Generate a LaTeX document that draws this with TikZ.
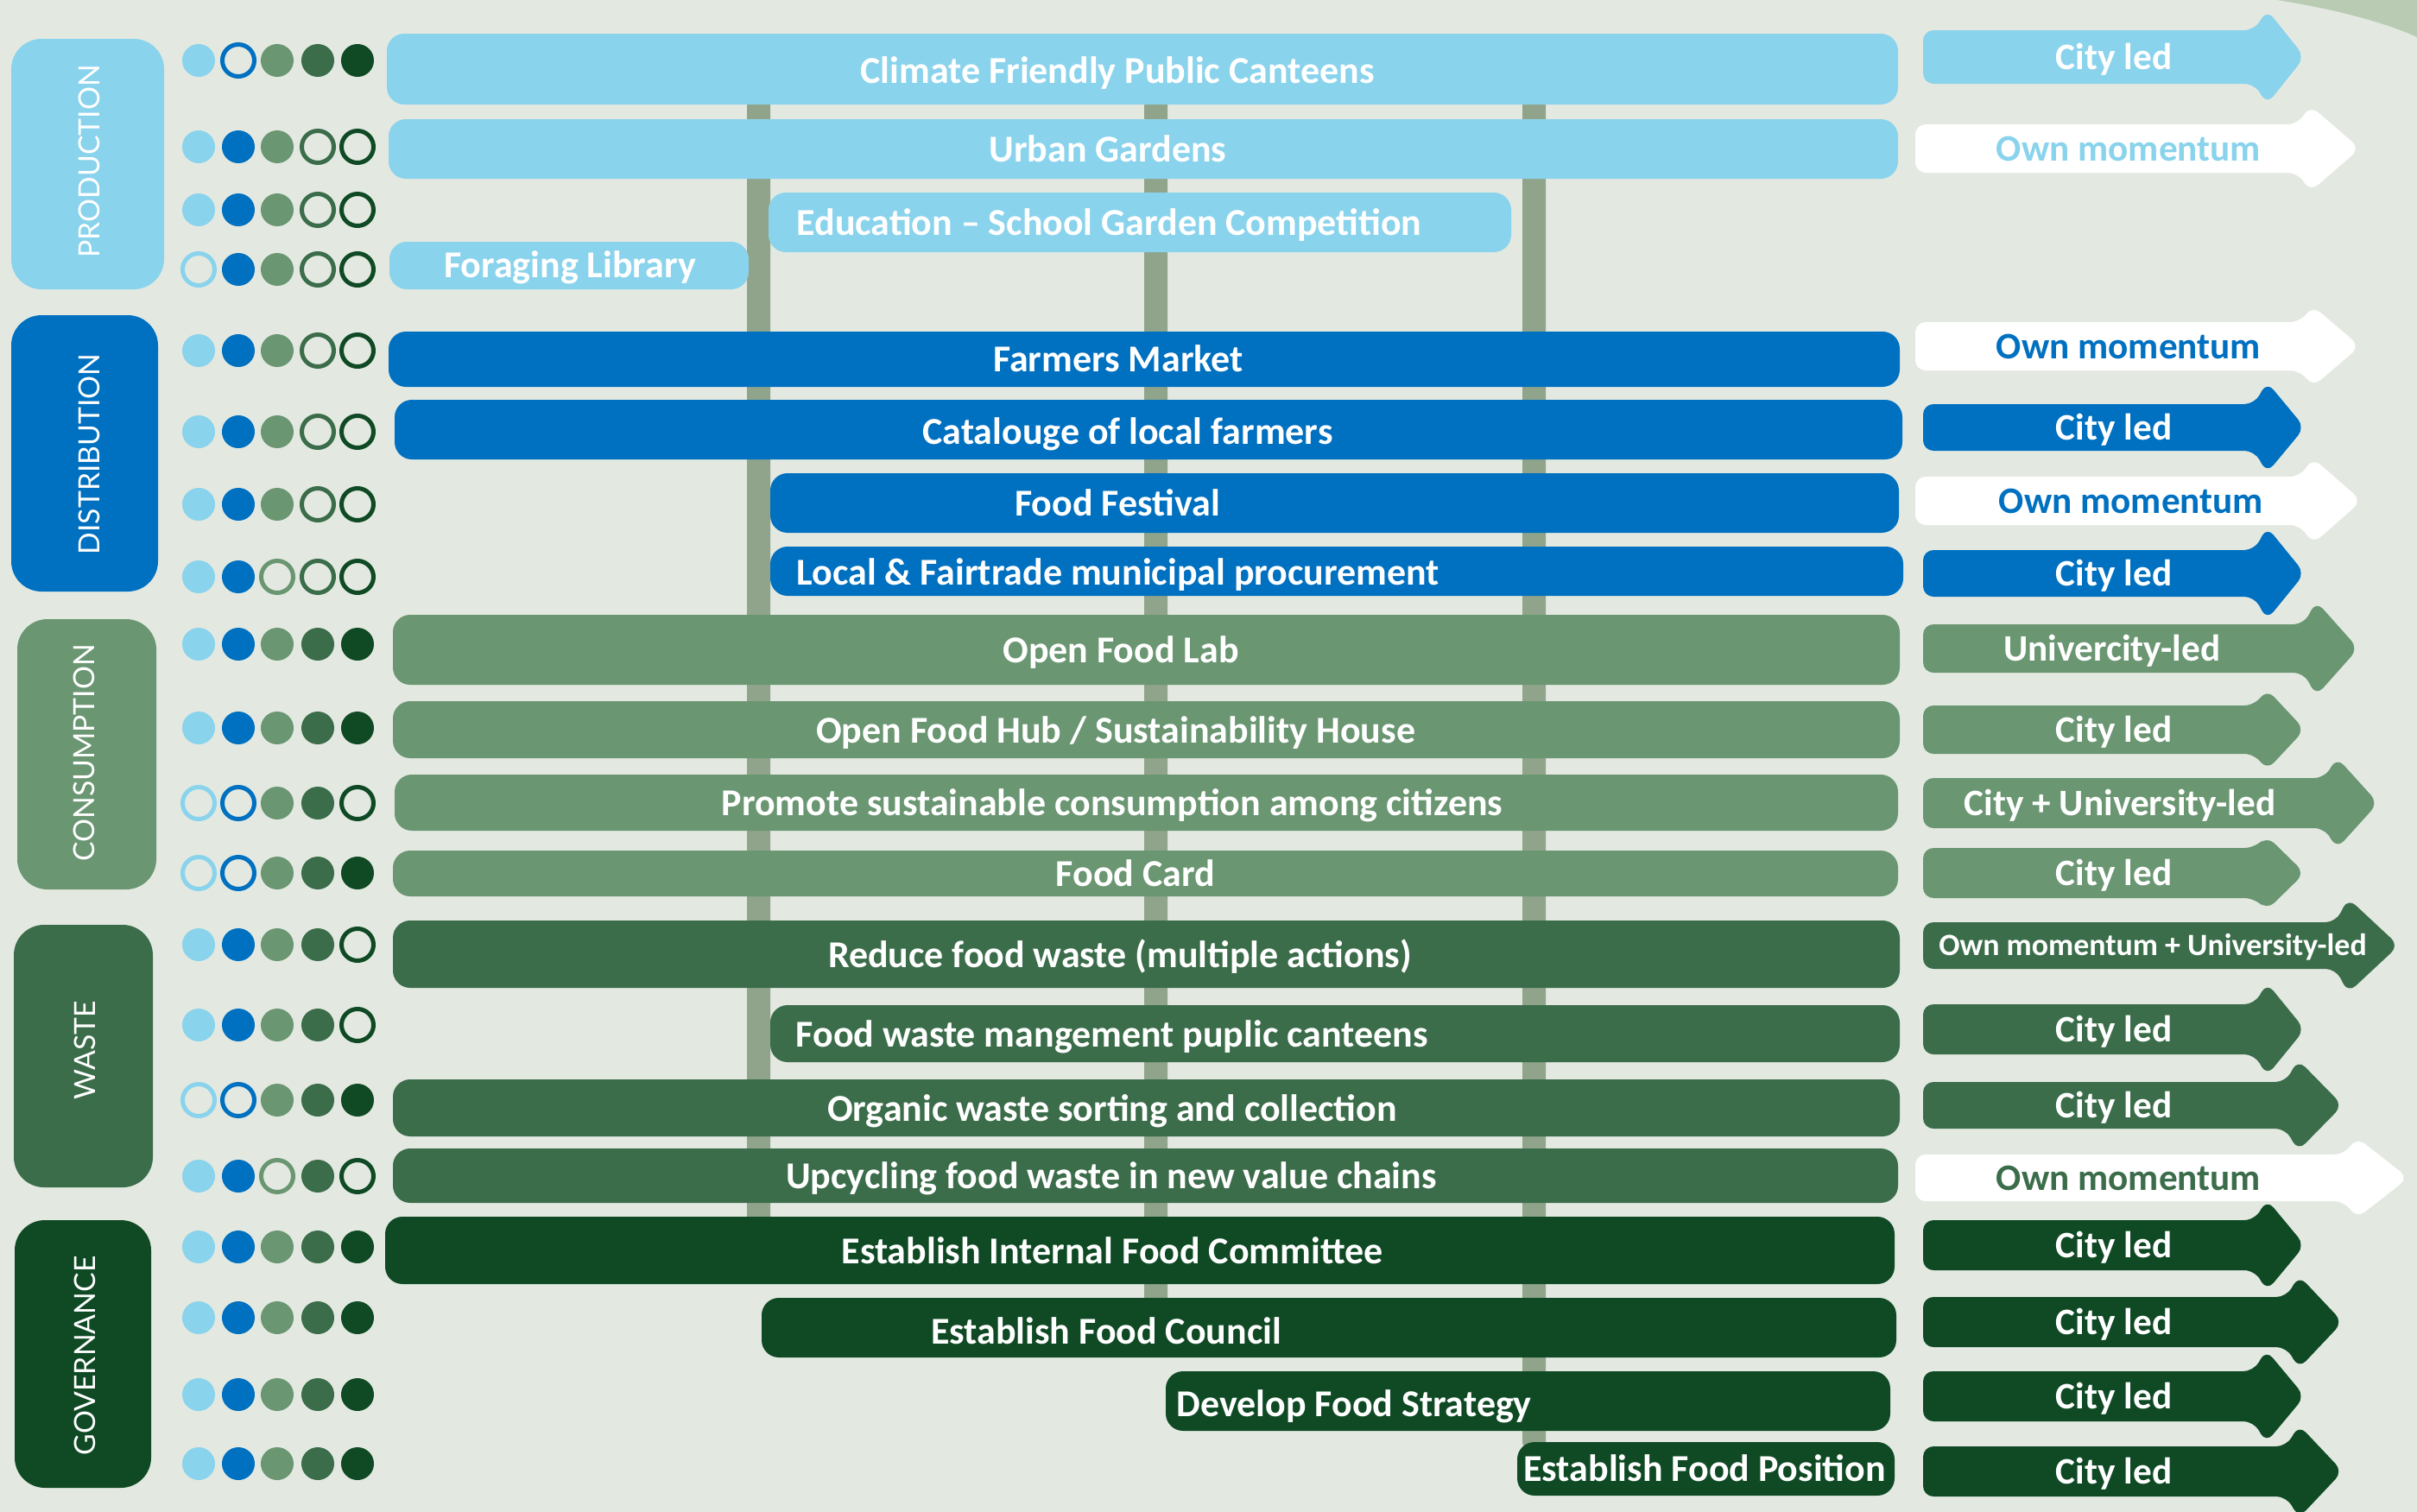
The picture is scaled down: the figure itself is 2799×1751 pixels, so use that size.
\documentclass[tikz,border=0pt]{standalone}
\usepackage{fontspec}
\setmainfont{Carlito}
\newfontfamily\catfont{Lato}
\definecolor{bg}{HTML}{E3E9E1}
\definecolor{lb}{HTML}{8AD3EC}
\definecolor{bl}{HTML}{0070C0}
\definecolor{mg}{HTML}{6A9672}
\definecolor{dmg}{HTML}{3B6D4A}
\definecolor{dg}{HTML}{0F4A25}
\definecolor{vbar}{HTML}{8FA48A}
\definecolor{corner}{HTML}{B9CBB3}
\newcommand\dt[3]{\if#3f\fill[#1] (#2,\rowy) circle[radius=0.19cm];\else\draw[#1,line width=0.05cm,fill=bg] (#2,\rowy) circle[radius=0.185cm];\fi}
\newcommand\dotrow[6]{\def\rowy{#1}\dt{lb}{230}{#2}\dt{bl}{276}{#3}\dt{mg}{321}{#4}\dt{dmg}{368}{#5}\dt{dg}{414}{#6}}
% #1 colour, #2 centre y, #3 body half height, #4 head base x, #5 tip x, #6 head half height, #7 left x
\newcommand\ledarrow[7]{\fill[#1, rounded corners=0.12cm] (#7,{#2-#3}) -- (#4,{#2-#3}) -- ({#4+14},{#2-#6}) -- (#5,#2) -- ({#4+14},{#2+#6}) -- (#4,{#2+#3}) -- (#7,{#2+#3}) -- cycle;}
\newcommand\actbar[5]{\fill[#1, rounded corners=0.2cm] (#2,#3) rectangle (#4,#5);}
\tikzset{
  bartext/.style={text=white, font=\fontsize{12.5}{14}\selectfont\bfseries, anchor=base, inner sep=0pt},
  arrtext/.style={font=\fontsize{12.3}{14}\selectfont\bfseries, anchor=base, inner sep=0pt},
  cattext/.style={text=white, font=\catfont\fontsize{9.6}{11}\selectfont, rotate=90, inner sep=0pt},
  catbox/.style={rounded corners=0.35cm},
  vline/.style={fill=vbar, rounded corners=0.1cm}
}
\begin{document}
\begin{tikzpicture}[x=0.01cm,y=-0.01cm]
\useasboundingbox (0,0) rectangle (2799,1751);
\fill[bg] (0,0) rectangle (2799,1751);
\fill[corner] (2637,0) .. controls (2700,10) and (2760,25) .. (2799,43) -- (2799,0) -- cycle;
% vertical bars
\path[vline] (865,100) rectangle (892,1420);
\path[vline] (1325,100) rectangle (1352,1515);
\path[vline] (1763,100) rectangle (1790,1680);
% production
\actbar{lb}{448}{39}{2198}{121}
\actbar{lb}{450}{138}{2198}{207}
\actbar{lb}{890}{223}{1750}{292}
\actbar{lb}{451}{280}{867}{335}
% distribution
\actbar{bl}{450}{384}{2200}{448}
\actbar{bl}{457}{463}{2203}{532}
\actbar{bl}{892}{548}{2199}{617}
\actbar{bl}{892}{633}{2204}{690}
% consumption
\actbar{mg}{455}{712}{2200}{793}
\actbar{mg}{455}{812}{2200}{878}
\actbar{mg}{457}{897}{2198}{962}
\actbar{mg}{455}{985}{2198}{1038}
% waste
\actbar{dmg}{455}{1066}{2200}{1144}
\actbar{dmg}{892}{1164}{2200}{1230}
\actbar{dmg}{455}{1250}{2200}{1316}
\actbar{dmg}{455}{1330}{2198}{1393}
% governance
\actbar{dg}{446}{1409}{2194}{1487}
\actbar{dg}{882}{1503}{2196}{1572}
\actbar{dg}{1350}{1588}{2189}{1657}
\actbar{dg}{1757}{1670}{2194}{1732}
% bar texts
\node[bartext] (t1) at (1294,96) {Climate Friendly Public Canteens};
\node[bartext] (t2) at (1283,187) {Urban Gardens};
\node[bartext, anchor=base west] (t3) at (922,272) {Education -- School Garden Competition};
\node[bartext] (t4) at (660,321) {Foraging Library};
\node[bartext] (t5) at (1295,430) {Farmers Market};
\node[bartext] (t6) at (1306,514) {Catalouge of local farmers};
\node[bartext] (t7) at (1294,597) {Food Festival};
\node[bartext, anchor=base west] (t8) at (922,677) {Local \& Fairtrade municipal procurement};
\node[bartext] (t9) at (1298,767) {Open Food Lab};
\node[bartext] (t10) at (1292,860) {Open Food Hub / Sustainability House};
\node[bartext] (t11) at (1288,944) {Promote sustainable consumption among citizens};
\node[bartext] (t12) at (1315,1026) {Food Card};
\node[bartext] (t13) at (1297,1120) {Reduce food waste (multiple actions)};
\node[bartext, anchor=base west] (t14) at (921,1212) {Food waste mangement puplic canteens};
\node[bartext] (t15) at (1288,1298) {Organic waste sorting and collection};
\node[bartext] (t16) at (1287,1376) {Upcycling food waste in new value chains};
\node[bartext] (t17) at (1288,1463) {Establish Internal Food Committee};
\node[bartext] (t18) at (1281,1556) {Establish Food Council};
\node[bartext, anchor=base west] (t19) at (1362,1640) {Develop Food Strategy};
\node[bartext] (t20) at (1974,1715) {Establish Food Position};
% arrows
\ledarrow{lb}{66}{31}{2611}{2669}{55}{2227}
\ledarrow{white}{172}{28}{2661}{2733}{50}{2218}
\ledarrow{white}{401}{28}{2664}{2733}{47}{2218}
\ledarrow{bl}{495}{27}{2611}{2669}{53}{2227}
\ledarrow{white}{580}{28}{2664}{2735}{50}{2218}
\ledarrow{bl}{664}{27}{2611}{2669}{54}{2227}
\ledarrow{mg}{751}{28}{2668}{2731}{55}{2227}
\ledarrow{mg}{845}{28}{2611}{2669}{47}{2227}
\ledarrow{mg}{930}{29}{2692}{2754}{53}{2227}
\ledarrow{mg}{1011}{29}{2611}{2669}{43}{2227}
\ledarrow{dmg}{1095}{27}{2705}{2778}{55}{2227}
\ledarrow{dmg}{1192}{29}{2611}{2669}{54}{2227}
\ledarrow{dmg}{1280}{27}{2647}{2713}{53}{2227}
\ledarrow{white}{1364}{27}{2715}{2789}{47}{2218}
\ledarrow{dg}{1442}{29}{2611}{2669}{53}{2227}
\ledarrow{dg}{1531}{29}{2648}{2713}{54}{2227}
\ledarrow{dg}{1617}{29}{2610}{2669}{54}{2227}
\ledarrow{dg}{1704}{29}{2648}{2713}{54}{2227}
% arrow texts
\node[arrtext, text=white] (a1) at (2448,80) {City led};
\node[arrtext, text=lb] (a2) at (2465,186) {Own momentum};
\node[arrtext, text=bl] (a3) at (2465,415) {Own momentum};
\node[arrtext, text=white] (a4) at (2448,509) {City led};
\node[arrtext, text=bl] (a5) at (2468,594) {Own momentum};
\node[arrtext, text=white] (a6) at (2448,678) {City led};
\node[arrtext, text=white] (a7) at (2446,765) {Univercity-led};
\node[arrtext, text=white] (a8) at (2448,859) {City led};
\node[arrtext, text=white] (a9) at (2455,944) {City + University-led};
\node[arrtext, text=white] (a10) at (2448,1025) {City led};
\node[arrtext, text=white, font=\fontsize{10.2}{12}\selectfont\bfseries] (a11) at (2493,1106) {Own momentum + University-led};
\node[arrtext, text=white] (a12) at (2448,1206) {City led};
\node[arrtext, text=white] (a13) at (2448,1294) {City led};
\node[arrtext, text=dmg] (a14) at (2465,1378) {Own momentum};
\node[arrtext, text=white] (a15) at (2448,1456) {City led};
\node[arrtext, text=white] (a16) at (2448,1545) {City led};
\node[arrtext, text=white] (a17) at (2448,1631) {City led};
\node[arrtext, text=white] (a18) at (2448,1718) {City led};
% dots
\dotrow{70}{f}{o}{f}{f}{f}
\dotrow{170}{f}{f}{f}{o}{o}
\dotrow{243}{f}{f}{f}{o}{o}
\dotrow{312}{o}{f}{f}{o}{o}
\dotrow{406}{f}{f}{f}{o}{o}
\dotrow{500}{f}{f}{f}{o}{o}
\dotrow{584}{f}{f}{f}{o}{o}
\dotrow{668}{f}{f}{o}{o}{o}
\dotrow{746}{f}{f}{f}{f}{f}
\dotrow{843}{f}{f}{f}{f}{f}
\dotrow{930}{o}{o}{f}{f}{o}
\dotrow{1011}{o}{o}{f}{f}{f}
\dotrow{1094}{f}{f}{f}{f}{o}
\dotrow{1187}{f}{f}{f}{f}{o}
\dotrow{1274}{o}{o}{f}{f}{f}
\dotrow{1362}{f}{f}{o}{f}{o}
\dotrow{1444}{f}{f}{f}{f}{f}
\dotrow{1526}{f}{f}{f}{f}{f}
\dotrow{1615}{f}{f}{f}{f}{f}
\dotrow{1695}{f}{f}{f}{f}{f}
% categories
\fill[lb, catbox] (13,45) rectangle (190,335);
\fill[bl, catbox] (13,365) rectangle (183,685);
\fill[mg, catbox] (20,717) rectangle (181,1030);
\fill[dmg, catbox] (16,1071) rectangle (177,1375);
\fill[dg, catbox] (17,1413) rectangle (175,1723);
\node[cattext] (c1) at (103,187) {PRODUCTION};
\node[cattext] (c2) at (103,526) {DISTRIBUTION};
\node[cattext] (c3) at (97,872) {CONSUMPTION};
\node[cattext] (c4) at (98,1216) {WASTE};
\node[cattext] (c5) at (98,1570) {GOVERNANCE};
\end{tikzpicture}
\end{document}
